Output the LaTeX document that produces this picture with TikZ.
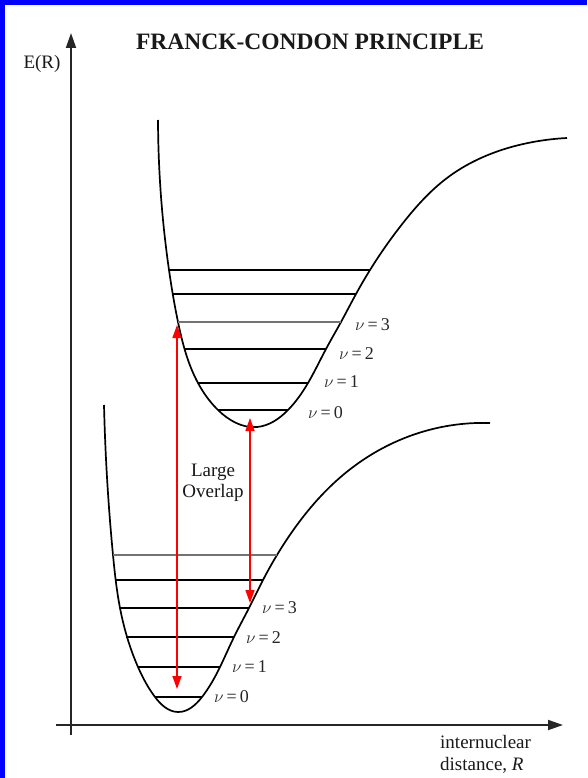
\documentclass[tikz,border=0pt]{standalone}
\usepackage{fontspec}
\setmainfont{Liberation Serif}
\usetikzlibrary{arrows.meta,hobby}
\begin{document}
\begin{tikzpicture}[x=1pt,y=-1pt,
  axis/.style={line width=1.8pt, draw=black!85, -{Triangle[length=15pt,width=10pt]}},
  curve/.style={line width=1.7pt, draw=black, use Hobby shortcut},
  lvl/.style={line width=1.7pt, draw=black},
  lvlg/.style={line width=1.7pt, draw=black!55},
  trans/.style={line width=1.5pt, draw=red, fill=red, {Triangle[length=13pt,width=9pt]}-{Triangle[length=13pt,width=9pt]}},
  lab/.style={font=\fontsize{18}{20}\selectfont, anchor=west, inner sep=0pt, text=black!85},
  txt/.style={font=\fontsize{19}{21}\selectfont, inner sep=0pt, text=black!90, align=center},
]
\path[use as bounding box, fill=white] (0,0) rectangle (587,778);
\fill[blue] (0,0) rectangle (587,5);
\fill[blue] (0,0) rectangle (5,778);

% axes
\coordinate (yb) at (71,735); \coordinate (yt) at (71,33);
\coordinate (xl) at (56,725); \coordinate (xr) at (563,725);
\draw[axis] (yb) -- (yt);
\draw[axis] (xl) -- (xr);
\node[txt] (ER) at (42,64) {E(R)};
\node[txt, font=\fontsize{23.5}{26}\selectfont\bfseries] (title) at (310,42) {FRANCK-CONDON PRINCIPLE};
\node[txt, anchor=north west, align=left, font=\fontsize{19}{22.5}\selectfont] (xlab) at (440,735) {internuclear\\distance, \textit{R}};

% upper potential
\draw[curve] (158,120) .. (169,270) .. (178,322) .. (198,383) .. (218,410) .. (257,427) .. (288,410) .. (308,383) .. (326,349) .. (341,322) .. (356,294) .. (370,270) .. (403,223) .. (447,178) .. (493,153) .. (533,142) .. (567,138);
\draw[lvl] (169,270) -- (370,270);
\draw[lvl] (173,294) -- (356,294);
\draw[lvlg] (178,322) -- (341,322);
\draw[lvl] (185,349) -- (326,349);
\draw[lvl] (198,383) -- (308,383);
\draw[lvl] (218,410) -- (288,410);
\node[lab] (u3) at (355,325) {$\nu$\,=\,3};
\node[lab] (u2) at (339,354) {$\nu$\,=\,2};
\node[lab] (u1) at (324,382) {$\nu$\,=\,1};
\node[lab] (u0) at (308,413) {$\nu$\,=\,0};

% lower potential
\draw[curve] (104,405) .. (113,555) .. (120,608) .. (138,667) .. (155,697) .. (178,712) .. (202,697) .. (220,667) .. (234,637) .. (249,608) .. (263,580) .. (277,555) .. (303,517) .. (343,475) .. (393,443) .. (437,428) .. (490,423);
\draw[lvlg] (113,555) -- (277,555);
\draw[lvl] (116,580) -- (263,580);
\draw[lvl] (120,608) -- (249,608);
\draw[lvl] (126,637) -- (234,637);
\draw[lvl] (138,667) -- (220,667);
\draw[lvl] (155,697) -- (202,697);
\node[lab] (l3) at (262,608) {$\nu$\,=\,3};
\node[lab] (l2) at (246,638) {$\nu$\,=\,2};
\node[lab] (l1) at (232,667) {$\nu$\,=\,1};
\node[lab] (l0) at (214,697) {$\nu$\,=\,0};

% transitions
\coordinate (a1t) at (177,325); \coordinate (a1b) at (177,689);
\coordinate (a2t) at (250,418); \coordinate (a2b) at (250,603);
\draw[trans] (a1b) -- (a1t);
\draw[trans] (a2b) -- (a2t);
\node[txt] (ov) at (213,483) {Large\\Overlap};
\end{tikzpicture}
\end{document}
